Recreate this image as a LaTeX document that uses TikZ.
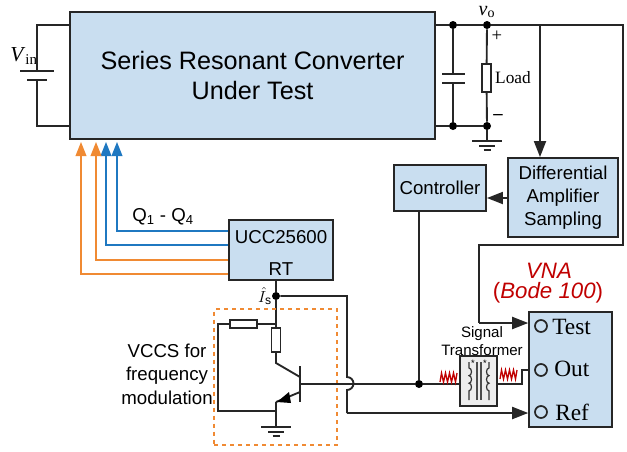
\documentclass[tikz,border=0pt]{standalone}
\usepackage{fontspec}
\setmainfont{Liberation Sans}
\newfontfamily\timesfont{Liberation Serif}
\usetikzlibrary{positioning}
\usetikzlibrary{arrows.meta}
\definecolor{boxblue}{HTML}{C9DEF0}
\definecolor{gateblue}{HTML}{1F78C1}
\definecolor{gateorange}{HTML}{F08A33}
\definecolor{vnared}{HTML}{C00000}
\tikzset{
    block/.style={draw=black!85, line width=1.4pt, fill=boxblue, inner sep=0pt, align=center},
    wire/.style={line width=1.4pt, black!85},
    sig/.style={wire, -{Triangle[length=12pt,width=9pt]}},
    gate/.style={line width=1.3pt, -{Triangle[length=10.5pt,width=8pt]}},
    dot/.style={circle, fill=black, inner sep=0pt, minimum size=6pt},
    res/.style={draw=black!85, line width=1.2pt, fill=white, inner sep=0pt},
    port/.style={circle, draw=black!85, line width=1.3pt, fill=none, inner sep=0pt, minimum size=9pt},
    sanstxt/.style={font=\fontsize{14}{17}\selectfont, inner sep=0pt, align=center},
    serifport/.style={font=\fontsize{17.5}{17.5}\selectfont\timesfont, anchor=west, inner sep=0pt}
}
\newcommand{\gndbars}[2]{
    \draw[wire] (#1-15,#2) -- (#1+15,#2);
    \draw[wire] (#1-8,#2+5) -- (#1+8,#2+5);
    \draw[wire] (#1-3.5,#2+9) -- (#1+3.5,#2+9);
}
\newcommand{\redcoil}[2]{
    \draw[vnared, line width=1pt] (#1,#2) -- ++(1.5,-9) -- ++(2,9) -- ++(2,-9) -- ++(2,9) -- ++(2,-9) -- ++(2,9) -- ++(2,-9) -- ++(2,9) -- ++(1.5,-9);
}
\begin{document}
\begin{tikzpicture}[x=0.75pt,y=-0.75pt]
    \useasboundingbox (0,0) rectangle (627,451);

    % Converter and input source
    \node[block, minimum width=273.75pt, minimum height=95.25pt, font=\fontsize{18.9}{22.5}\selectfont] (conv) at (252.5,75.5) {Series Resonant Converter\\Under Test};
    \node[font=\fontsize{16}{16}\selectfont\timesfont, inner sep=0pt] (vin) at (24,56) {\textit{V}\textsubscript{in}};
    \coordinate (batt1) at (37,71);
    \coordinate (batt2) at (37,80);
    \draw[wire] (conv.west |- 0,25) -| (batt1);
    \draw[wire] (conv.west |- 0,126) -| (batt2);
    \draw[wire] (20,71) -- (54,71);
    \draw[wire] (27,80) -- (47,80);

    % Output filter and load
    \node[dot] (captop) at (453,25) {};
    \node[dot] (capbot) at (453,126) {};
    \node[dot] (loadtop) at (487,25) {};
    \node[dot] (loadbot) at (487,126) {};
    \node[res, minimum width=6.75pt, minimum height=21pt] (load) at (486.5,78) {};
    \coordinate (plate1) at (453,74);
    \coordinate (plate2) at (453,83);
    \draw[wire] (conv.east |- captop) -- (captop) -- (loadtop);
    \draw[wire] (conv.east |- capbot) -- (capbot) -- (loadbot);
    \draw[wire] (captop) -- (plate1);
    \draw[wire] (capbot) -- (plate2);
    \draw[wire] (442,74) -- (465,74);
    \draw[wire] (442,83) -- (465,83);
    \draw[wire] (loadtop) -- (load);
    \draw[wire] (load) -- (loadbot);
    \draw[wire] (loadbot) -- (487,141);
    \gndbars{487}{141}
    \node[font=\fontsize{15}{15}\selectfont\timesfont, inner sep=0pt] (vo) at (487,12) {\textit{v}\textsubscript{o}};
    \node[font=\fontsize{14}{14}\selectfont\timesfont, inner sep=0pt] (plus) at (497,36) {+};
    \node[font=\bfseries\fontsize{14}{14}\selectfont\timesfont, inner sep=0pt] (minus) at (498,117) {\textendash};
    \node[font=\fontsize{13}{13}\selectfont\timesfont, inner sep=0pt] (loadtxt) at (513,78) {Load};

    % Feedback path
    \node[block, minimum width=82.5pt, minimum height=59.25pt, font=\fontsize{14}{17}\selectfont] (diff) at (563,197.5) {Differential\\Amplifier\\Sampling};
    \node[block, minimum width=69pt, minimum height=34.5pt, font=\fontsize{14}{14}\selectfont] (ctrl) at (440,188) {Controller};
    \coordinate (tap) at (540,25);
    \draw[wire] (loadtop) -- (tap);
    \draw[sig] (tap) -- (tap |- diff.north);
    \draw[sig] (diff.west |- 0,198) -- (ctrl.east |- 0,198);

    % Gate driver
    \node[block, minimum width=78pt, minimum height=45pt] (ucc) at (281,250) {};
    \node[sanstxt] (ucctxt) at (281,237) {UCC25600};
    \node[sanstxt] (rt) at (281,269) {RT};
    \draw[gate, gateblue] (ucc.west |- 0,231) -| (117,142);
    \draw[gate, gateblue] (ucc.west |- 0,245) -| (106,142);
    \draw[gate, gateorange] (ucc.west |- 0,260) -| (96,142);
    \draw[gate, gateorange] (ucc.west |- 0,274) -| (81,142);
    \node[sanstxt] (qtxt) at (163,217) {Q\textsubscript{1} - Q\textsubscript{4}};

    % VCCS
    \node[dot] (sense) at (276,296) {};
    \node[inner sep=0pt, font=\fontsize{13}{13}\selectfont] (ishat) at (265,296) {$\hat{I}_{\mathrm{s}}$};
    \node[res, minimum width=6.75pt, minimum height=18pt] (rc) at (276,340) {};
    \node[res, minimum width=20pt, minimum height=6pt] (rb) at (243.5,324) {};
    \coordinate (rbtap) at (276,324);
    \coordinate (coll) at (276,363);
    \coordinate (emit) at (276,402);
    \coordinate (loop) at (276,411);
    \coordinate (base) at (300,384);
    \draw[wire] (ucc.south -| sense) -- (sense) -- (rc);
    \draw[wire] (rbtap) -- (rb);
    \draw[wire] (rb.west) -| (218,411) -- (loop);
    \draw[wire] (rc.south) -- (coll) -- (300,377);
    \draw[wire] (300,366) -- (300,402);
    \draw[wire] (300,392) -- (emit);
    \fill[black] (277,402) -- (289,392) -- (291,403) -- cycle;
    \draw[wire] (emit) -- (276,427);
    \gndbars{276}{427}
    \node[draw=gateorange, dashed, line width=1.3pt, minimum width=92pt, minimum height=102pt, inner sep=0pt] (vccsbox) at (275.5,377) {};
    \node[font=\fontsize{14}{17.5}\selectfont, align=center, inner sep=0pt] (vccs) at (167,374) {VCCS for\\frequency\\modulation};

    % VNA
    \node[block, minimum width=62pt, minimum height=86pt] (vna) at (570.5,369.5) {};
    \node[port] (ptest) at (541,326) {};
    \node[port] (pout) at (541,370) {};
    \node[port] (pref) at (541,412) {};
    \node[serifport] (ttest) at (552,327) {Test};
    \node[serifport] (tout) at (554,369) {Out};
    \node[serifport] (tref) at (555,412) {Ref};
    \node[font=\itshape\fontsize{16.7}{16.7}\selectfont, vnared, inner sep=0pt] (vnatxt) at (549,271) {VNA};
    \node[font=\fontsize{16.7}{16.7}\selectfont, vnared, inner sep=0pt] (bode) at (548,293) {(\textit{Bode 100})};
    \coordinate (fbturn) at (623,245);
    \draw[wire] (tap) -- (623,25) -- (fbturn) -- (479,245) -- (479,323);
    \draw[sig] (479,323) -- (vna.west |- 0,323);

    % Signal transformer
    \node[inner sep=0pt, font=\fontsize{11.3}{13.5}\selectfont, align=center] (trafotxt) at (482,341) {Signal\\Transformer};
    \node[draw=black!85, line width=1.3pt, fill=black!7, minimum width=27.5pt, minimum height=37.5pt, inner sep=0pt] (trafo) at (478.5,381) {};
    \node[dot] (inj) at (419,384) {};
    \draw[wire] (ctrl.south -| inj) -- (inj);
    \draw[wire] (base) -- (inj) -- (trafo.west |- inj);
    \draw[wire] (trafo.east |- inj) -- (522,384) -- (522,370) -- (pout.west -| vna.west);
    \draw[black!70, line width=1pt] (477,362) -- (477,400);
    \draw[black!70, line width=1pt] (481,362) -- (481,400);
    \draw[black!80, line width=0.9pt] (469,362) -- (469,368) arc (-90:90:2.5 and 3.8) arc (-90:90:2.5 and 3.8) arc (-90:90:2.5 and 3.8) -- (469,400);
    \draw[black!80, line width=0.9pt] (489,362) -- (489,368) arc (270:90:2.5 and 3.8) arc (270:90:2.5 and 3.8) arc (270:90:2.5 and 3.8) -- (489,400);
    \node[font=\fontsize{7}{7}\selectfont, inner sep=0pt] (staru) at (473,363) {*};
    \node[font=\fontsize{7}{7}\selectfont, inner sep=0pt] (starv) at (485,363) {*};
    \redcoil{440}{382}
    \redcoil{500}{379}

    % Reference wire with hop
    \draw[wire] (sense) -| (347,377) arc (-90:90:6.5 and 6.5) -- (347,413);
    \draw[sig] (347,413) -- (vna.west |- 0,413);
\end{tikzpicture}
\end{document}
